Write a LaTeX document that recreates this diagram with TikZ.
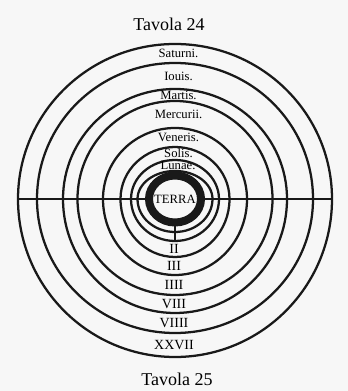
\documentclass[tikz,border=0pt]{standalone}
\usepackage{fontspec}
\setmainfont{Liberation Serif}
\usetikzlibrary{positioning}

\begin{document}
\begin{tikzpicture}[x=0.75pt,y=0.75pt,
  ring/.style={line width=1.7pt,black!90},
  orb/.style={inner sep=0pt,font=\fontsize{9.5}{10}\selectfont},
  num/.style={inner sep=0pt,font=\fontsize{10.5}{11}\selectfont},
  tav/.style={inner sep=0pt,font=\fontsize{13.5}{15}\selectfont}]
\fill[black!3] (-175,-192) rectangle (173,199);
% spheres: upper and lower half of each ring
\foreach \rh/\rt/\rb in {37.5/28/33,44/39/42,54.5/52/58,72/71/76,97.5/98/96,112/110/114,138/136/134,157/155/158}{
  \draw[ring] (-\rh,0) arc[start angle=180,end angle=0,x radius=\rh,y radius=\rt];
  \draw[ring] (-\rh,0) arc[start angle=180,end angle=360,x radius=\rh,y radius=\rb];
}
\draw[line width=6pt,black!90] (0,0) ellipse[x radius=26,y radius=23.5];
\node (terra) at (0,0) {\fontsize{9.5}{10}\selectfont TERRA};
\coordinate (west) at (-157,0); \coordinate (tw) at (-26,0);
\coordinate (east) at (157,0);  \coordinate (te) at (26,0);
\coordinate (ts) at (0,-23.5);  \coordinate (rii) at (0,-42);
\draw[ring] (west)--(tw); \draw[ring] (te)--(east);
\draw[ring] (ts)--(rii);
% Tavola 24
\node[tav] (t24) at (-6,175) {Tavola 24};
\node[orb] (saturni) at (3.5,145.5) {Saturni.};
\node[orb] (iouis) at (3.5,123) {Iouis.};
\node[orb] (martis) at (3.5,104) {Martis.};
\node[orb] (mercurii) at (3.5,84.5) {Mercurii.};
\node[orb] (veneris) at (3.5,61.5) {Veneris.};
\node[orb] (solis) at (3.5,45.5) {Solis.};
\node[orb] (lunae) at (3,33.5) {Lunae.};
% Tavola 25
\node[num] (ii) at (-1,-50) {II};
\node[num] (iii) at (-1,-67) {III};
\node[num] (iiii) at (-1,-86) {IIII};
\node[num] (viii) at (-1,-105) {VIII};
\node[num] (viiii) at (-1,-124) {VIIII};
\node[num] (xxvii) at (-1,-146) {XXVII};
\node[tav] (t25) at (2,-180) {Tavola 25};
\end{tikzpicture}
\end{document}
